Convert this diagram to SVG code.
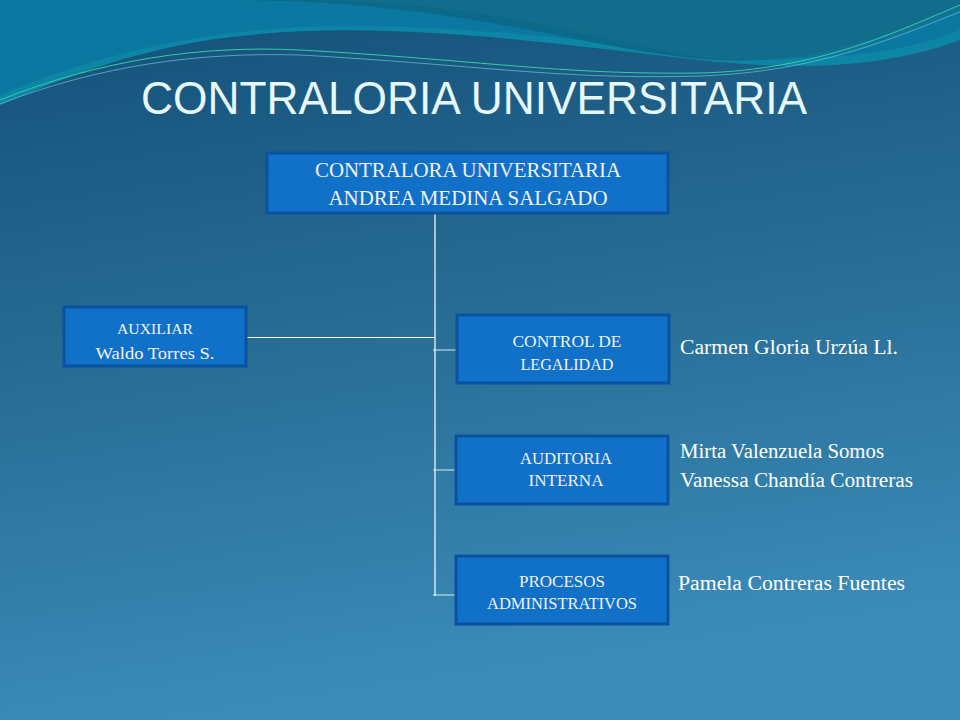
<svg xmlns="http://www.w3.org/2000/svg" width="960" height="720" viewBox="0 0 960 720">
<defs>
<linearGradient id="bg" x1="0" y1="0" x2="0.2" y2="1">
<stop offset="0" stop-color="#134f78"/><stop offset="0.5" stop-color="#276c94"/><stop offset="1" stop-color="#3b8bb9"/>
</linearGradient>
<style>
.box{fill:#1170c8;stroke:#0a52a0;stroke-width:3}
.t{font-family:"Liberation Serif",serif;fill:#f2f2f2;text-anchor:middle}
.side{font-family:"Liberation Serif",serif;fill:#ffffff;font-size:20px}
.ln{stroke:#ffffff;stroke-width:1.2;fill:none}
</style>
</defs>
<rect width="960" height="720" fill="url(#bg)"/>
<path d="M0,0 H960 V40 C880,70 790,70 700,60 C560,45 400,20 250,35 C140,45 60,80 0,105 Z" fill="#0d86a6"/>
<path d="M0,0 H960 V30 C900,55 820,62 740,55 C600,45 420,15 260,30 C150,40 60,70 0,95 Z" fill="#0a6fa0" opacity="0.6"/>
<path d="M230,0 H960 V5 C880,40 800,65 720,60 C600,55 470,0 230,0 Z" fill="#0b6a8a"/>
<path d="M960,10 C880,50 810,62 740,60 C620,57 530,-5 250,0 H960 Z" fill="#1a6e8c" opacity="0.5"/>
<path d="M0,100 C100,60 200,45 300,50 C480,60 560,75 700,73 C820,70 900,30 960,5" stroke="#2fd0a0" stroke-width="1" fill="none"/>
<path d="M0,104 C100,65 200,52 300,55 C480,65 560,80 700,76 C820,72 900,35 960,12" stroke="#6fc0e0" stroke-width="1" fill="none" opacity="0.7"/>
<text x="474" y="114" font-family="Liberation Sans,sans-serif" font-size="47" fill="#e6f8fb" text-anchor="middle" textLength="666" lengthAdjust="spacingAndGlyphs">CONTRALORIA UNIVERSITARIA</text>
<g id="connectors">
<path class="ln" d="M435,214 V596"/>
<path class="ln" d="M247,337.5 H435"/>
<path class="ln" d="M433,350 H456" stroke-opacity="0.7"/>
<path class="ln" d="M433,470 H456" stroke-opacity="0.7"/>
<path class="ln" d="M433,595 H456" stroke-opacity="0.7"/>
</g>
<g id="n-contralora"><rect class="box" x="267" y="153" width="401" height="60"/>
<text class="t" x="468" y="177" font-size="20" textLength="306" lengthAdjust="spacingAndGlyphs">CONTRALORA UNIVERSITARIA</text>
<text class="t" x="468" y="205" font-size="20" textLength="279" lengthAdjust="spacingAndGlyphs">ANDREA MEDINA SALGADO</text></g>
<g id="n-auxiliar"><rect class="box" x="64" y="307" width="182" height="59"/>
<text class="t" x="155" y="334" font-size="15" textLength="76" lengthAdjust="spacingAndGlyphs">AUXILIAR</text>
<text class="t" x="155" y="359" font-size="17" textLength="119" lengthAdjust="spacingAndGlyphs">Waldo Torres S.</text></g>
<g id="n-control"><rect class="box" x="457" y="315" width="212" height="68"/>
<text class="t" x="567" y="347" font-size="16" textLength="109" lengthAdjust="spacingAndGlyphs">CONTROL DE</text>
<text class="t" x="567" y="370" font-size="16" textLength="93" lengthAdjust="spacingAndGlyphs">LEGALIDAD</text></g>
<g id="n-auditoria"><rect class="box" x="456" y="436" width="212" height="68"/>
<text class="t" x="566" y="464" font-size="16" textLength="92" lengthAdjust="spacingAndGlyphs">AUDITORIA</text>
<text class="t" x="566" y="486" font-size="16" textLength="75" lengthAdjust="spacingAndGlyphs">INTERNA</text></g>
<g id="n-procesos"><rect class="box" x="456" y="556" width="212" height="68"/>
<text class="t" x="562" y="587" font-size="16" textLength="86" lengthAdjust="spacingAndGlyphs">PROCESOS</text>
<text class="t" x="562" y="609" font-size="16" textLength="150" lengthAdjust="spacingAndGlyphs">ADMINISTRATIVOS</text></g>
<text class="side" x="680" y="354" textLength="218" lengthAdjust="spacingAndGlyphs">Carmen Gloria Urzúa Ll.</text>
<text class="side" x="680" y="458" textLength="204" lengthAdjust="spacingAndGlyphs">Mirta Valenzuela Somos</text>
<text class="side" x="680" y="487" textLength="233" lengthAdjust="spacingAndGlyphs">Vanessa Chandía Contreras</text>
<text class="side" x="678" y="590" textLength="227" lengthAdjust="spacingAndGlyphs">Pamela Contreras Fuentes</text>
</svg>
